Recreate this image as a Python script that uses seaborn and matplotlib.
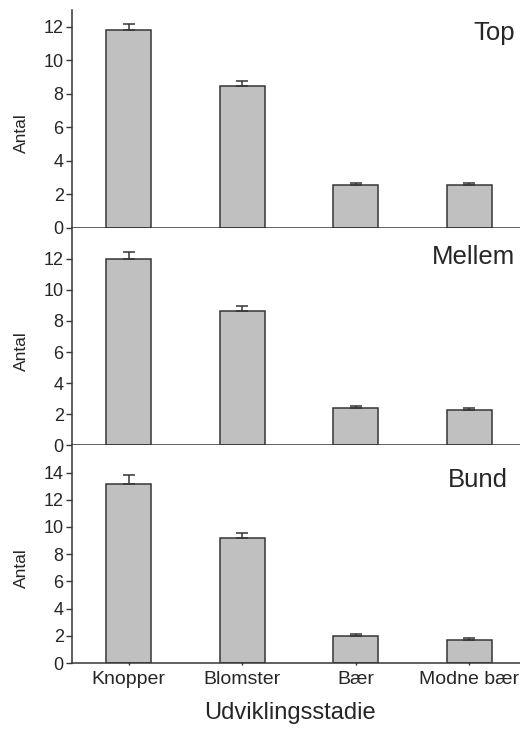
import numpy as np
import pandas as pd
import seaborn as sns
import matplotlib.pyplot as plt

# Data
stages = ['Knopper', 'Blomster', 'Bær', 'Modne bær']
panels = ['Top', 'Mellem', 'Bund']
top_mean = [11.8, 8.47, 2.55, 2.55]
top_err = [0.36, 0.3, 0.1, 0.1]
mellem_mean = [12.0, 8.63, 2.37, 2.27]
mellem_err = [0.44, 0.3, 0.14, 0.12]
bund_mean = [13.19, 9.22, 1.99, 1.72]
bund_err = [0.66, 0.37, 0.14, 0.1]
y_limits = [13, 14, 16]
y_ticks = [[0, 2, 4, 6, 8, 10, 12], [0, 2, 4, 6, 8, 10, 12], [0, 2, 4, 6, 8, 10, 12, 14]]

means = [top_mean, mellem_mean, bund_mean]
errs = [top_err, mellem_err, bund_err]

sns.set_style('ticks')
plt.rcParams['font.family'] = ['Liberation Sans', 'DejaVu Sans']

fig = plt.figure(figsize=(5.2, 7.29), dpi=100)
left, right, bottom, top = 72 / 520, 526 / 520, 66 / 729, 719 / 729
h = (top - bottom) / 3

edge = '#363636'
label_pos = [(0.976, 0.894), (0.976, 0.864), (0.960, 0.84)]

for i, name in enumerate(panels):
    ax = fig.add_axes([left, top - (i + 1) * h, right - left, h])
    df = pd.DataFrame({'stage': stages, 'value': means[i]})
    sns.barplot(data=df, x='stage', y='value', order=stages, color='#c0c0c0',
                saturation=1, edgecolor=edge, linewidth=1.1, width=0.4,
                errorbar=None, ax=ax)
    pos = np.arange(len(stages))
    ax.errorbar(pos, means[i], yerr=[np.zeros(len(stages)), errs[i]], fmt='none',
                ecolor=edge, elinewidth=1.1, capsize=4, capthick=1.1, zorder=1)
    ax.set_ylim(0, y_limits[i])
    ax.set_xlim(-0.5, len(stages) - 0.5)
    ax.set_yticks(y_ticks[i])
    ax.set_ylabel('Antal', fontsize=12.5)
    ax.yaxis.set_label_coords(-0.094, 0.435)
    ax.set_xlabel('')
    for s in ['top', 'right']:
        ax.spines[s].set_visible(False)
    for s in ['left', 'bottom']:
        ax.spines[s].set_color(edge)
        ax.spines[s].set_linewidth(1.1)
    ax.tick_params(axis='y', direction='out', length=4, width=1, color=edge,
                   labelsize=13, pad=2)
    ax.tick_params(axis='x', direction='inout', length=3, width=1, color=edge,
                   labelsize=14, pad=4)
    if i < 2:
        ax.tick_params(axis='x', labelbottom=False)
    ax.text(label_pos[i][0], label_pos[i][1], name, transform=ax.transAxes,
            ha='right', va='center', fontsize=18.5)

fig.text(289.5 / 520, 1 - 712.7 / 729, 'Udviklingsstadie', ha='center', va='center',
         fontsize=17)

fig.savefig('out.png', dpi=100)
